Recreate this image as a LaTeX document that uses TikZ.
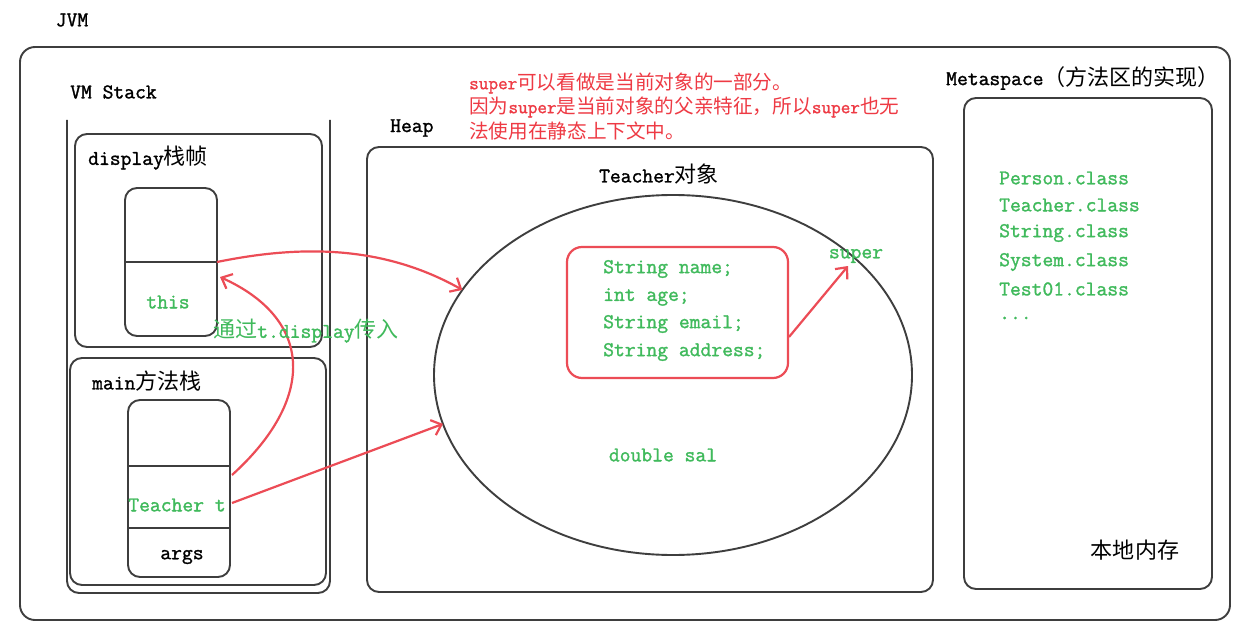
\documentclass[tikz,border=0pt]{standalone}
\usepackage{fontspec}
\setmonofont[FakeBold=1.4]{Latin Modern Mono}
\newfontfamily\cjkfont[Scale=1.05]{Noto Sans CJK SC}
\usetikzlibrary{shapes.geometric,arrows.meta,calc}
\definecolor{codegreen}{RGB}{64,186,92}
\definecolor{notered}{RGB}{238,58,68}
\definecolor{linkred}{RGB}{236,76,86}
\definecolor{frameline}{RGB}{62,62,62}
\newcommand\zh[1]{{\cjkfont #1}}

\begin{document}
\begin{tikzpicture}[x=1pt,y=-1pt,
  box/.style={draw=frameline, line width=1.9pt, rounded corners=#1,
    inner sep=0pt, outer sep=0pt},
  box/.default=12pt,
  txt/.style={inner sep=0pt, font=\ttfamily\fontsize{21}{25}\selectfont, text=black},
  code/.style={txt, text=codegreen},
  note/.style={inner sep=0pt, font=\ttfamily\fontsize{18.7}{24}\selectfont, text=notered},
  link/.style={draw=linkred, line width=2.2pt,
    -{Straight Barb[length=9pt,width=16pt]}},
]
\fill[white] (0,0) rectangle (1260,639);
\useasboundingbox (0,0) rectangle (1260,639);

% JVM
\node[txt] (jvm) at (72,20) {JVM};
\node[box=15pt, minimum width=1210pt, minimum height=573pt] (jvmbox) at (625,333.5) {};

% VM stack (open at the top)
\node[txt, anchor=west] (vmlabel) at (70,92) {VM Stack};
\draw[draw=frameline, line width=1.9pt, rounded corners=12pt]
  (67,120) |- (330,593) -- (330,120);

% display frame
\node[box, minimum width=247pt, minimum height=213pt] (dbox) at (198.5,240.5) {};
\node[txt, anchor=west] (dlabel) at (88,158) {display\zh{栈帧}};
\node[box, minimum width=92pt, minimum height=148pt] (dframe) at (171,262) {};
\draw[draw=frameline, line width=1.9pt] (dframe.west) -- (dframe.east);
\node[code] (this) at (168,302) {this};

% main frame
\node[box, minimum width=256pt, minimum height=227pt] (mbox) at (198,471.5) {};
\node[txt, anchor=west] (mlabel) at (92,381) {main\zh{方法栈}};
\node[box, minimum width=102pt, minimum height=177pt] (mframe) at (179,488.5) {};
\coordinate (mdiv1w) at ($(mframe.west)+(0,-22.5)$);
\coordinate (mdiv1e) at ($(mframe.east)+(0,-22.5)$);
\coordinate (mdiv2w) at ($(mframe.west)+(0,39.5)$);
\coordinate (mdiv2e) at ($(mframe.east)+(0,39.5)$);
\draw[draw=frameline, line width=1.9pt] (mdiv1w) -- (mdiv1e);
\draw[draw=frameline, line width=1.9pt] (mdiv2w) -- (mdiv2e);
\node[code] (tvar) at (177,505) {Teacher t};
\node[txt] (args) at (182,557) {args};

% heap
\node[txt, anchor=west] (heaplabel) at (390,128) {Heap};
\node[box, minimum width=566pt, minimum height=445pt] (heap) at (650,369.5) {};
\node[txt] (objlabel) at (659,174) {Teacher\zh{对象}};
\node[draw=frameline, line width=1.9pt, ellipse, inner sep=0pt, outer sep=0pt,
  minimum width=478pt, minimum height=360pt] (obj) at (673,375) {};
\node[draw=linkred, line width=2.2pt, rounded corners=15pt, inner sep=0pt, outer sep=0pt,
  minimum width=221pt, minimum height=131pt] (fields) at (677.5,312.5) {};
\node[code, anchor=west] (f1) at (603,269) {String name;};
\node[code, anchor=west] (f2) at (603,297) {int age;};
\node[code, anchor=west] (f3) at (603,324) {String email;};
\node[code, anchor=west] (f4) at (603,352) {String address;};
\node[code] (super) at (856,256) {super};
\node[code] (sal) at (663,455) {double sal};

% note
\node[note, anchor=west] (n1) at (469,83) {super\zh{可以看做是当前对象的一部分。}};
\node[note, anchor=west] (n2) at (469,107) {\zh{因为}super\zh{是当前对象的父亲特征，所以}super\zh{也无}};
\node[note, anchor=west] (n3) at (469,131) {\zh{法使用在静态上下文中。}};

% metaspace
\node[txt, anchor=west] (metalabel) at (946,78) {Metaspace\zh{（方法区的实现）}};
\node[box, minimum width=248pt, minimum height=491pt] (meta) at (1088,343.5) {};
\node[code, anchor=west] (c1) at (999,178) {Person.class};
\node[code, anchor=west] (c2) at (999,205) {Teacher.class};
\node[code, anchor=west] (c3) at (999,233) {String.class};
\node[code, anchor=west] (c4) at (999,262) {System.class};
\node[code, anchor=west] (c5) at (999,289) {Test01.class};
\node[code, anchor=west] (c6) at (999,318) {...};
\node[txt] (native) at (1135,550) {\zh{本地内存}};

% references
\coordinate (thisref) at ($(dframe.east)+(3,15)$);
\coordinate (tvarup) at ($(mframe.east)+(2,-13.5)$);
\coordinate (tvarout) at ($(mframe.east)+(2,14.5)$);
\coordinate (fieldsout) at ($(fields.east)+(1,24.5)$);
\coordinate (superin) at ($(super.center)+(-8,10)$);
\draw[link] (dframe.east) .. controls +(83,-17) and +(-80,-45) .. (obj.158);
\draw[link] (tvarup) .. controls +(83,-75) and +(95,43) .. (thisref);
\draw[link] (tvarout) -- (obj.192);
\draw[link] (fieldsout) -- (superin);
\node[code, anchor=west] (passnote) at (213,331) {\zh{通过}t.display\zh{传入}};
\end{tikzpicture}
\end{document}
